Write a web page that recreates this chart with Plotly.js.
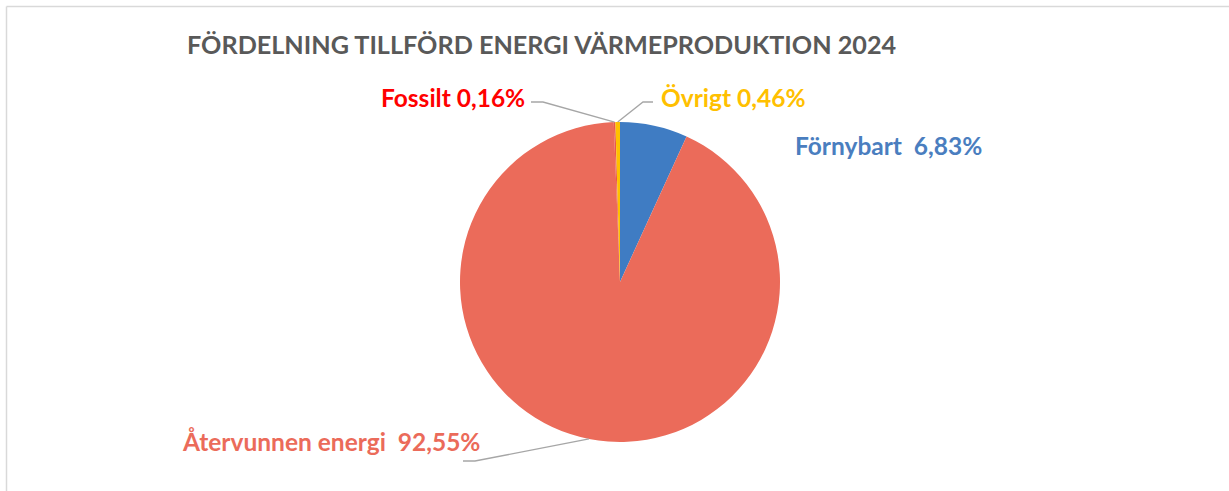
<!DOCTYPE html>
<html>
<head>
<meta charset="utf-8">
<script src="https://cdn.plot.ly/plotly-3.0.1.min.js"></script>
<style>
html,body{margin:0;padding:0;background:#fff;}
#chart{width:1229px;height:491px;}
</style>
</head>
<body>
<div id="chart"></div>
<script>
// ---- data ----
const categories = ["Förnybart", "Återvunnen energi", "Fossilt", "Övrigt"];
const values = [6.83, 92.55, 0.16, 0.46];
const labelTexts = ["Förnybart  6,83%", "Återvunnen energi  92,55%", "Fossilt 0,16%", "Övrigt 0,46%"];
const sliceColors = ["#3f7cc3", "#eb6b5a", "#e8584a", "#ffc000"];
const labelColors = ["#4a7ebf", "#eb6b5a", "#ff0000", "#ffc000"];
const chartTitle = "FÖRDELNING TILLFÖRD ENERGI VÄRMEPRODUKTION 2024";

// ---- layout geometry (pixels) ----
const W = 1229, H = 491;
const cx = 620, cy = 282, R = 160;
const px = x => x / W;
const py = y => 1 - y / H;

// label placement: [anchor x, y, xanchor, leader elbow, leader end] (null = no leader)
const labelPos = [
  {x: 793, y: 145, xanchor: "left", leader: null},
  {x: 180, y: 441, xanchor: "left", leader: [[475, 461], [463, 461]]},
  {x: 527, y: 97, xanchor: "right", leader: [[543, 102], [531, 102]]},
  {x: 659, y: 97, xanchor: "left", leader: [[643, 102], [653, 102]]}
];

const total = values.reduce((a, b) => a + b, 0);
let cum = 0;
const shapes = [
  {type: "line", xref: "paper", yref: "paper", x0: px(6.5), x1: px(1229), y0: py(6.5), y1: py(6.5), line: {color: "#d9d9d9", width: 1.5}},
  {type: "line", xref: "paper", yref: "paper", x0: px(6.5), x1: px(6.5), y0: py(6.5), y1: py(491), line: {color: "#d9d9d9", width: 1.5}}
];
const annotations = [];
values.forEach((v, i) => {
  const mid = (cum + v / 2) / total * 2 * Math.PI;
  cum += v;
  const tx = cx + R * Math.sin(mid), ty = cy - R * Math.cos(mid);
  const lp = labelPos[i];
  if (lp.leader) {
    const [e, f] = lp.leader;
    shapes.push({type: "path", xref: "paper", yref: "paper",
      path: `M ${px(tx)} ${py(ty)} L ${px(e[0])} ${py(e[1])} L ${px(f[0])} ${py(f[1])}`,
      line: {color: "#a6a6a6", width: 1.3}});
  }
  annotations.push({xref: "paper", yref: "paper", x: px(lp.x), y: py(lp.y), xanchor: lp.xanchor, yanchor: "middle",
    text: labelTexts[i], showarrow: false,
    font: {family: "Lato, 'Open Sans', sans-serif", size: 24.5, color: labelColors[i], weight: "bold"}});
});

annotations.push({xref: "paper", yref: "paper", x: px(185), y: py(44), xanchor: "left", yanchor: "middle",
  text: chartTitle, showarrow: false,
  font: {family: "Lato, 'Open Sans', sans-serif", size: 25.2, color: "#595959", weight: "bold"}});

const trace = {
  type: "pie",
  labels: categories,
  values: values,
  sort: false,
  direction: "clockwise",
  rotation: 0,
  textinfo: "none",
  hoverinfo: "label+percent",
  marker: {colors: sliceColors, line: {color: "#ffffff", width: 0}},
  domain: {x: [px(cx - R), px(cx + R)], y: [py(cy + R), py(cy - R)]},
  showlegend: false
};

Plotly.newPlot("chart", [trace], {
  width: W, height: H,
  margin: {l: 0, r: 0, t: 0, b: 0},
  paper_bgcolor: "#ffffff",
  showlegend: false,
  shapes: shapes,
  annotations: annotations
}, {displayModeBar: false, staticPlot: true});
</script>
</body>
</html>
